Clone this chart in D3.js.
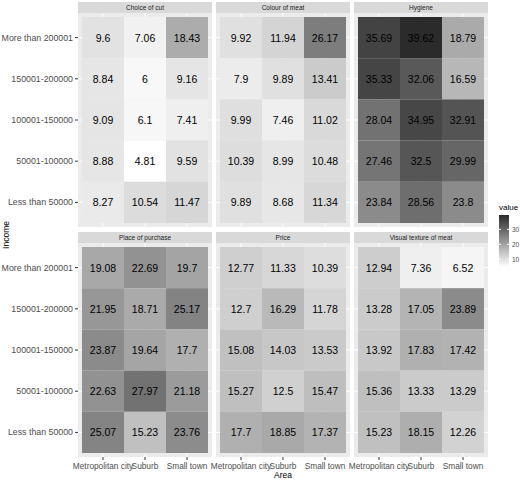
<!DOCTYPE html>
<html><head><meta charset="utf-8">
<script src="https://cdn.jsdelivr.net/npm/d3@7"></script>
<style>body{margin:0;background:#fff}text{font-family:"Liberation Sans",Arial,sans-serif}</style>
</head><body>
<script>
const areas = ["Metropolitan city", "Suburb", "Small town"];
const incomes = ["More than 200001", "150001-200000", "100001-150000", "50001-100000", "Less than 50000"];
const facets = ["Choice of cut", "Colour of meat", "Hygiene", "Place of purchase", "Price", "Visual texture of meat"];
// values[facet][income][area]
const values = [
  [[9.6, 7.06, 18.43], [8.84, 6, 9.16], [9.09, 6.1, 7.41], [8.88, 4.81, 9.59], [8.27, 10.54, 11.47]],
  [[9.92, 11.94, 26.17], [7.9, 9.89, 13.41], [9.99, 7.46, 11.02], [10.39, 8.99, 10.48], [9.89, 8.68, 11.34]],
  [[35.69, 39.62, 18.79], [35.33, 32.06, 16.59], [28.04, 34.95, 32.91], [27.46, 32.5, 29.99], [23.84, 28.56, 23.8]],
  [[19.08, 22.69, 19.7], [21.95, 18.71, 25.17], [23.87, 19.64, 17.7], [22.63, 27.97, 21.18], [25.07, 15.23, 23.76]],
  [[12.77, 11.33, 10.39], [12.7, 16.29, 11.78], [15.08, 14.03, 13.53], [15.27, 12.5, 15.47], [17.7, 18.85, 17.37]],
  [[12.94, 7.36, 6.52], [13.28, 17.05, 23.89], [13.92, 17.83, 17.42], [15.36, 13.33, 13.29], [15.23, 18.15, 12.26]]
];
const legendTicks = [10, 20, 30];

const W = 520, H = 481;
const svg = d3.select("body").append("svg").attr("width", W).attr("height", H);
const color = d3.scaleLinear().domain([4.81, 39.62]).range(["#ffffff", "#2b2b2b"]);

const colX = [78, 216, 354], pw = 134;
const rowY = [13, 243], ph = 214, stripH = 11;
const pad = 4;
const x = d3.scaleBand().domain(areas).range([pad, pw - pad]);
const y = d3.scaleBand().domain(incomes).range([pad, ph - pad]);

facets.forEach((f, fi) => {
  const col = fi % 3, row = Math.floor(fi / 3);
  const g = svg.append("g").attr("transform", `translate(${colX[col]},${rowY[row]})`);
  svg.append("rect").attr("x", colX[col]).attr("y", rowY[row] - stripH).attr("width", pw).attr("height", stripH).attr("fill", "#d9d9d9");
  svg.append("text").attr("x", colX[col] + pw / 2).attr("y", rowY[row] - stripH / 2 + 2.5)
    .attr("text-anchor", "middle").attr("font-size", 6.5).attr("fill", "#1a1a1a").text(f);
  g.append("rect").attr("width", pw).attr("height", ph).attr("fill", "#ebebeb");
  g.selectAll(".vg").data(areas).enter().append("line")
    .attr("x1", d => x(d) + x.bandwidth() / 2).attr("x2", d => x(d) + x.bandwidth() / 2)
    .attr("y1", 0).attr("y2", ph).attr("stroke", "#fff");
  g.selectAll(".hg").data(incomes).enter().append("line")
    .attr("y1", d => y(d) + y.bandwidth() / 2).attr("y2", d => y(d) + y.bandwidth() / 2)
    .attr("x1", 0).attr("x2", pw).attr("stroke", "#fff");
  const cells = [];
  incomes.forEach((inc, ii) => areas.forEach((a, ai) => cells.push({inc, a, v: values[fi][ii][ai]})));
  g.selectAll(".c").data(cells).enter().append("rect")
    .attr("x", d => x(d.a)).attr("y", d => y(d.inc))
    .attr("width", x.bandwidth()).attr("height", y.bandwidth())
    .attr("fill", d => color(d.v));
  g.selectAll(".t").data(cells).enter().append("text")
    .attr("x", d => x(d.a) + x.bandwidth() / 2).attr("y", d => y(d.inc) + y.bandwidth() / 2 + 4)
    .attr("text-anchor", "middle").attr("font-size", 10.5).attr("fill", "#000")
    .text(d => d.v);
  if (col === 0) {
    incomes.forEach(inc => {
      const yy = y(inc) + y.bandwidth() / 2;
      g.append("line").attr("x1", -3).attr("x2", 0).attr("y1", yy).attr("y2", yy).attr("stroke", "#333");
      g.append("text").attr("x", -5).attr("y", yy + 3).attr("text-anchor", "end")
        .attr("font-size", 8.8).attr("fill", "#4d4d4d").text(inc);
    });
  }
  if (row === 1) {
    areas.forEach(a => {
      const xx = x(a) + x.bandwidth() / 2;
      g.append("line").attr("x1", xx).attr("x2", xx).attr("y1", ph).attr("y2", ph + 3).attr("stroke", "#333");
      g.append("text").attr("x", xx).attr("y", ph + 12).attr("text-anchor", "middle")
        .attr("font-size", 8.3).attr("fill", "#4d4d4d").text(a);
    });
  }
});

svg.append("text").attr("x", 283).attr("y", 478).attr("text-anchor", "middle").attr("font-size", 8.5).attr("fill", "#000").text("Area");
svg.append("text").attr("transform", "translate(9,235) rotate(-90)").attr("text-anchor", "middle").attr("font-size", 8.5).attr("fill", "#000").text("Income");

// legend
const lg = svg.append("g").attr("transform", "translate(499,215)");
lg.append("text").attr("x", 0).attr("y", -5).attr("font-size", 8).attr("fill", "#000").text("value");
const defs = svg.append("defs");
const grad = defs.append("linearGradient").attr("id", "lg").attr("x1", 0).attr("x2", 0).attr("y1", 1).attr("y2", 0);
grad.append("stop").attr("offset", "0%").attr("stop-color", color(4.81));
grad.append("stop").attr("offset", "100%").attr("stop-color", color(39.62));
const lh = 52;
lg.append("rect").attr("width", 10).attr("height", lh).attr("fill", "url(#lg)");
const ly = d3.scaleLinear().domain([4.81, 39.62]).range([lh, 0]);
legendTicks.forEach(t => {
  lg.append("line").attr("x1", 0).attr("x2", 2).attr("y1", ly(t)).attr("y2", ly(t)).attr("stroke", "#fff");
  lg.append("line").attr("x1", 8).attr("x2", 10).attr("y1", ly(t)).attr("y2", ly(t)).attr("stroke", "#fff");
  lg.append("text").attr("x", 13).attr("y", ly(t) + 2.5).attr("font-size", 6.5).attr("fill", "#4d4d4d").text(t);
});
</script>
</body></html>
